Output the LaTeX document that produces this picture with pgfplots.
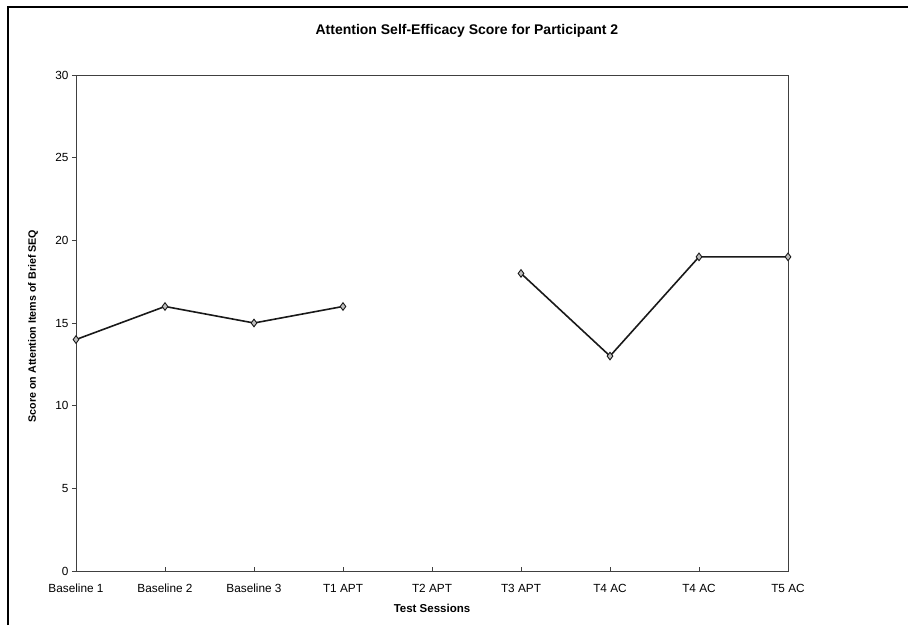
\documentclass[border=0pt]{standalone}
\usepackage{pgfplots}
\pgfplotsset{compat=1.18}
\usepackage{fontspec}
\setmainfont{Liberation Sans}
\begin{document}
\begin{tikzpicture}[x=1pt,y=1pt]
\useasboundingbox (-76,-54) rectangle (832,571);
\begin{axis}[
  at={(0,0)}, anchor=south west,
  scale only axis, width=712pt, height=496pt,
  xmin=0, xmax=8, ymin=0, ymax=30,
  xtick={0,...,8},
  xticklabels={Baseline 1,Baseline 2,Baseline 3,T1 APT,T2 APT,T3 APT,T4 AC,T4 AC,T5 AC},
  ytick={0,5,...,30},
  xtick align=inside, ytick align=outside, major tick length=4pt,
  tick style={black!75, thin},
  xtick pos=bottom, ytick pos=left,
  axis line style={black!75, thin},
  ticklabel style={font=\fontsize{11.8}{13}\selectfont},
  xticklabel style={anchor=base, yshift=-21pt},
  /pgf/number format/assume math mode=true,
  xlabel={\bfseries Test Sessions},
  ylabel={\bfseries Score on Attention Items of Brief SEQ},
  xlabel style={font=\fontsize{11.5}{13}\selectfont, at={(axis description cs:0.5,-0.0746)}, anchor=center},
  ylabel style={font=\fontsize{10.7}{12}\selectfont, at={(axis description cs:-0.0604,0.494)}, anchor=center},
  title={\bfseries Attention Self-Efficacy Score for Participant 2},
  title style={font=\fontsize{14}{16}\selectfont, at={(axis description cs:0.549,1.0766)}, anchor=center},
  clip=false,
  unbounded coords=jump,
]
\addplot[black!90, line width=1.6pt, mark=diamond*, mark size=3.8pt,
  mark options={fill=gray!50, draw=black!90, line width=0.9pt}]
  coordinates {(0,14) (1,16) (2,15) (3,16) (4,nan) (5,18) (6,13) (7,19) (8,19)};
\end{axis}
\draw[black, line width=1.8pt] (-68,-54) -- (-68,564) -- (832,564);
\end{tikzpicture}
\end{document}
